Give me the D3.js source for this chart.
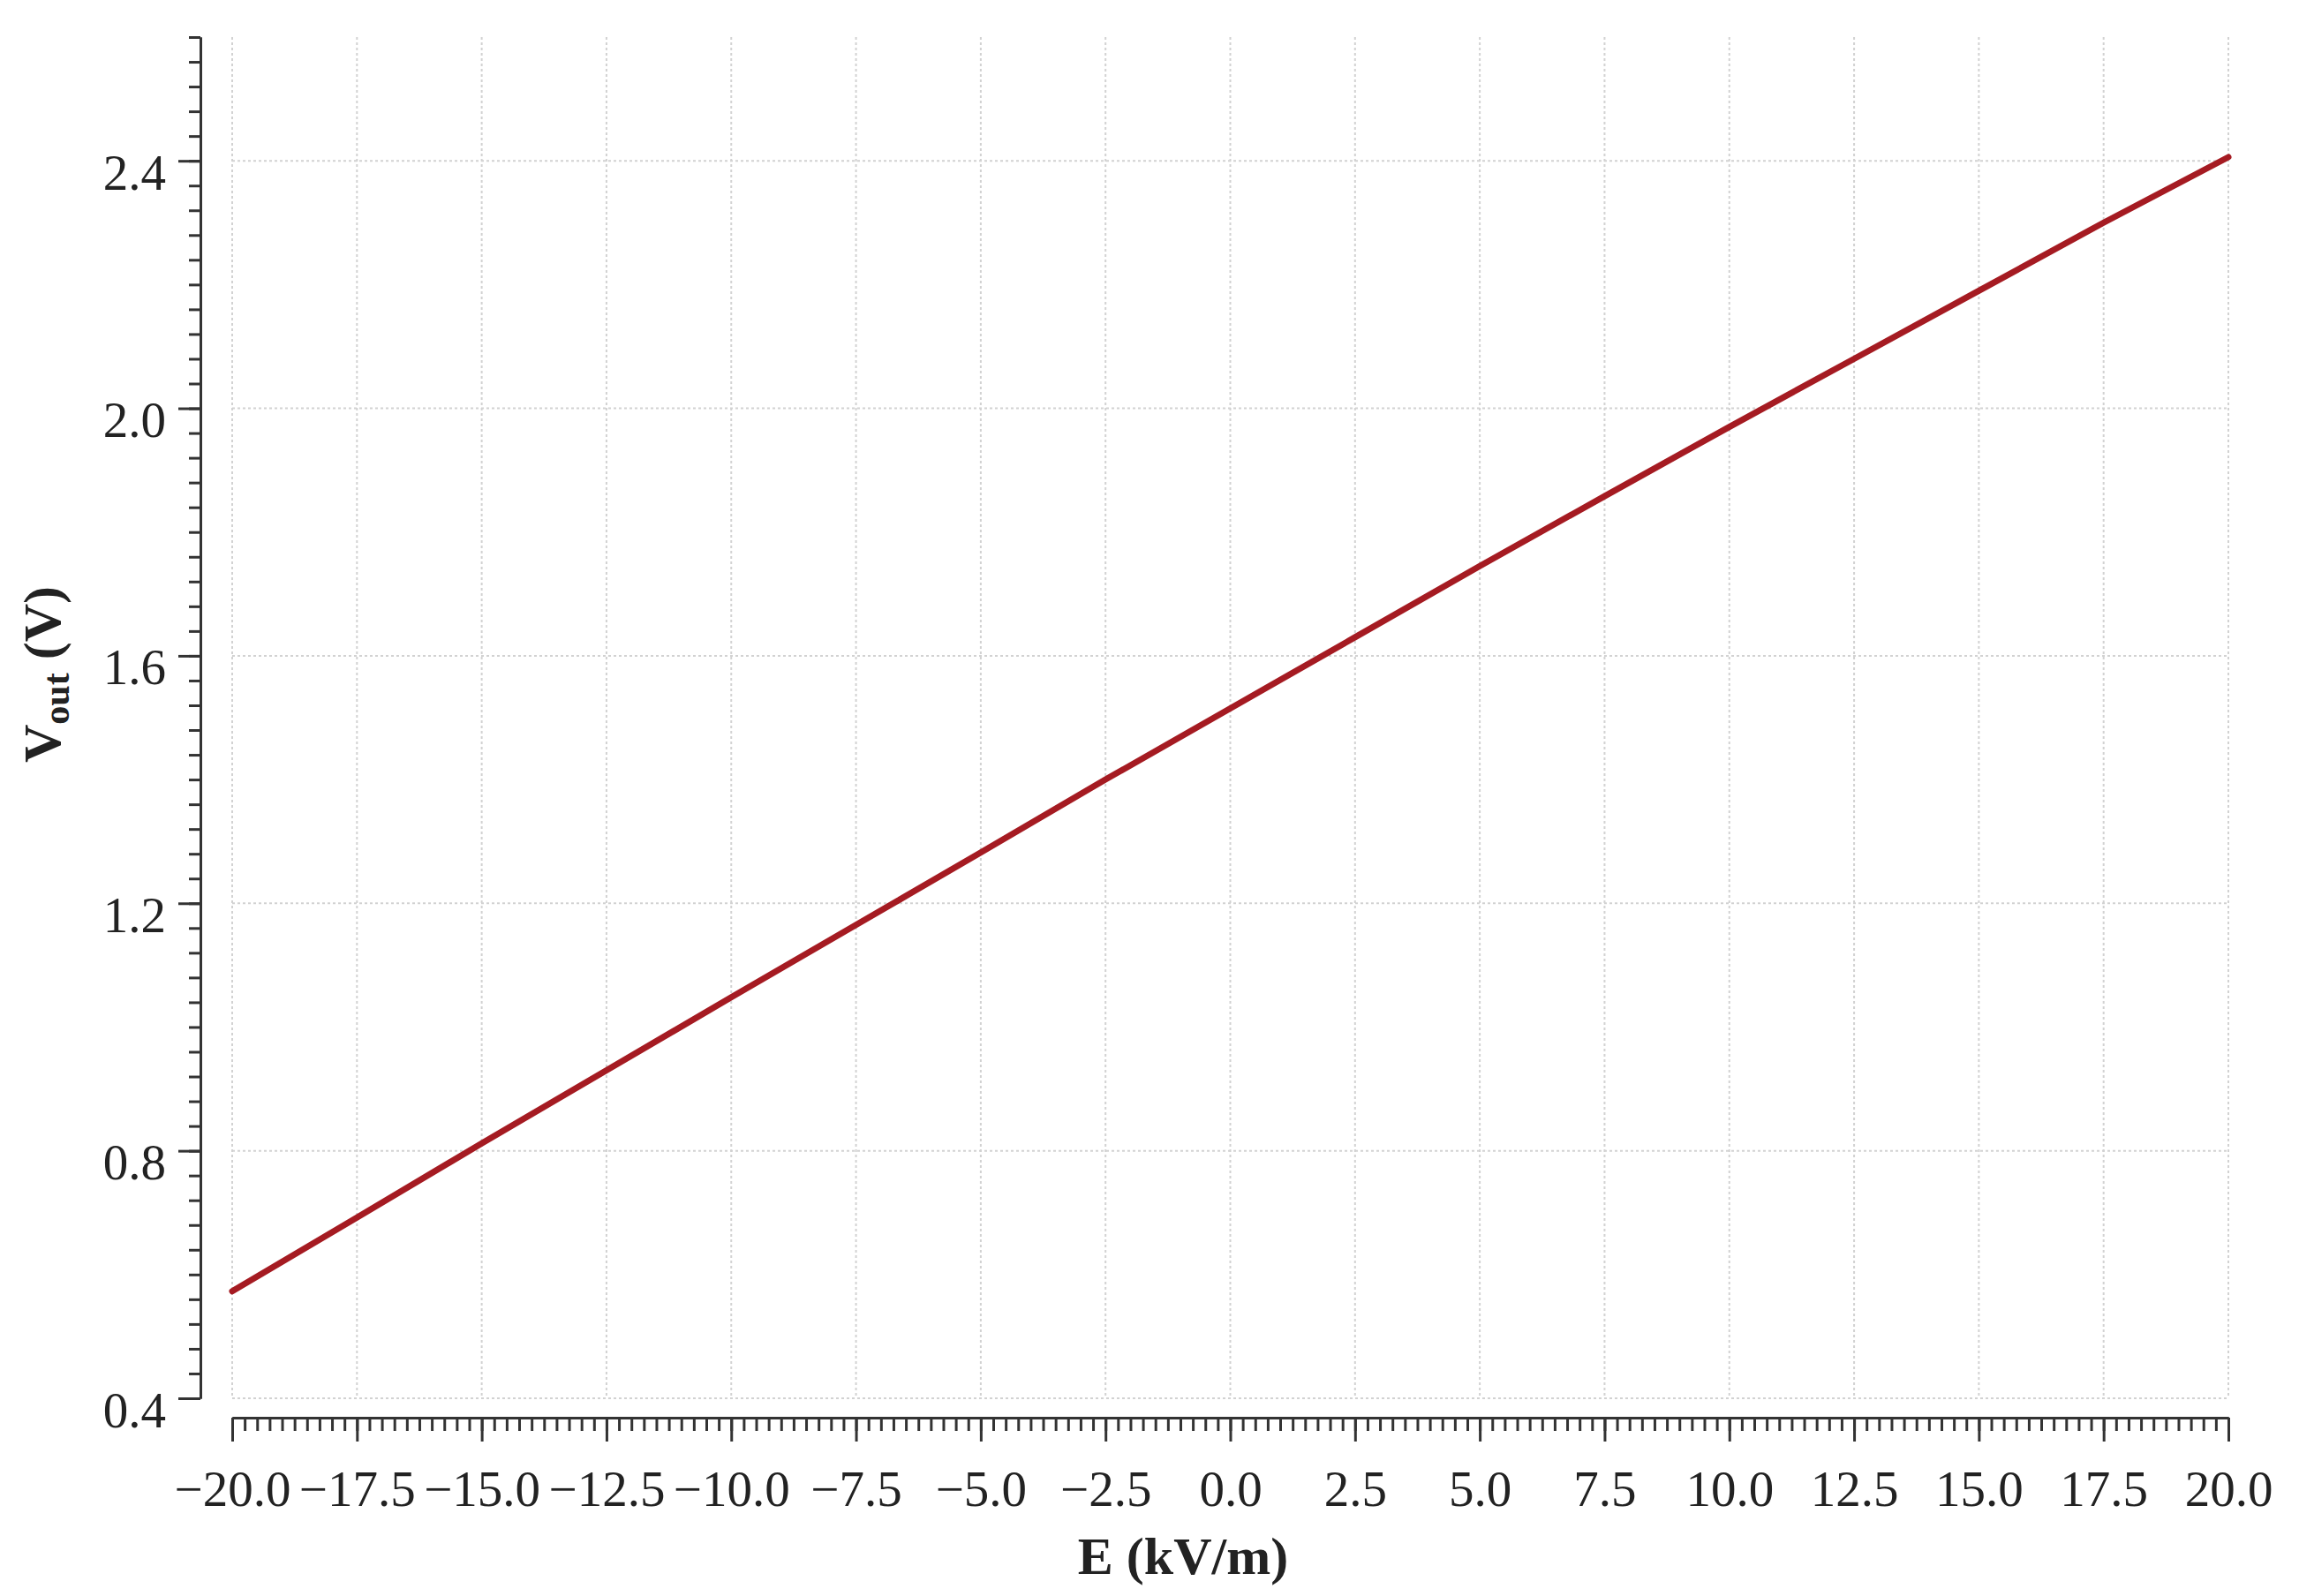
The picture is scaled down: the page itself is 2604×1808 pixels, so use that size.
<!DOCTYPE html>
<html>
<head>
<meta charset="utf-8">
<script src="https://cdn.jsdelivr.net/npm/d3@7"></script>
<style>
  body { margin: 0; background: #fff; }
  text { font-family: "Liberation Serif", "Times New Roman", serif; fill: #222; }
</style>
</head>
<body>
<div id="chart"></div>
<script>
// values
var eField = [-20, -17.5, -15, -12.5, -10, -7.5, -5, -2.5, 0, 2.5, 5, 7.5, 10, 12.5, 15, 17.5, 20];
var vOut = [0.573, 0.692, 0.812, 0.930, 1.048, 1.165, 1.282, 1.400, 1.515, 1.630, 1.745, 1.858, 1.970, 2.080, 2.190, 2.300, 2.406];

var xTicks = [-20, -17.5, -15, -12.5, -10, -7.5, -5, -2.5, 0, 2.5, 5, 7.5, 10, 12.5, 15, 17.5, 20];
var yTicks = [0.4, 0.8, 1.2, 1.6, 2.0, 2.4];

var svgWidth = 2604;
var svgHeight = 1808;

var svg = d3.select("#chart")
    .append("svg")
    .attr("width", svgWidth)
    .attr("height", svgHeight);

svg.append("rect")
    .attr("width", svgWidth)
    .attr("height", svgHeight)
    .attr("fill", "#fff");

var x = d3.scaleLinear()
    .domain([-20, 20])
    .range([263, 2524]);

var y = d3.scaleLinear()
    .domain([0.4, 2.6])
    .range([1584, 42]);

// grid
var grid = svg.append("g")
    .attr("stroke", "#d2d2d2")
    .attr("stroke-width", 2)
    .attr("stroke-dasharray", "3,3");

grid.selectAll(".vg")
    .data(xTicks)
    .enter()
    .append("line")
    .attr("x1", d => x(d))
    .attr("x2", d => x(d))
    .attr("y1", y(2.6))
    .attr("y2", y(0.4));

grid.selectAll(".hg")
    .data(yTicks)
    .enter()
    .append("line")
    .attr("x1", x(-20))
    .attr("x2", x(20))
    .attr("y1", d => y(d))
    .attr("y2", d => y(d));

// minor ticks
var xMinor = d3.range(-20, 20.001, 0.25);
var yMinor = d3.range(0.4, 2.6001, 0.04);

var axisColor = "#333";
var labelFont = "'Liberation Serif', 'Times New Roman', serif";

// x axis
var xAxisY = 1606;
var xMinorG = svg.append("g")
    .attr("transform", "translate(0," + xAxisY + ")")
    .call(d3.axisBottom(x).tickValues(xMinor).tickSize(15).tickSizeOuter(0).tickFormat(""));

var xAxisG = svg.append("g")
    .attr("transform", "translate(0," + xAxisY + ")")
    .call(d3.axisBottom(x).tickValues(xTicks).tickSize(27).tickSizeOuter(0).tickFormat(d3.format(".1f")));

// y axis
var yAxisX = 227;
var yMinorG = svg.append("g")
    .attr("transform", "translate(" + yAxisX + ",0)")
    .call(d3.axisLeft(y).tickValues(yMinor).tickSize(13).tickSizeOuter(0).tickFormat(""));

var yAxisG = svg.append("g")
    .attr("transform", "translate(" + yAxisX + ",0)")
    .call(d3.axisLeft(y).tickValues(yTicks).tickSize(25).tickSizeOuter(0).tickFormat(d3.format(".1f")));

[xMinorG, xAxisG, yMinorG, yAxisG].forEach(function(g) {
    g.selectAll("path").attr("stroke", axisColor).attr("stroke-width", 3);
    g.selectAll("line").attr("stroke", axisColor).attr("stroke-width", 3);
});

xAxisG.selectAll("text")
    .attr("font-size", 57)
    .attr("y", null)
    .attr("dy", null)
    .attr("transform", "translate(0,100)")
    .style("font-family", labelFont)
    .attr("fill", "#222");

yAxisG.selectAll("text")
    .attr("font-size", 57)
    .attr("x", -39)
    .attr("dy", null)
    .attr("y", 32)
    .style("font-family", labelFont)
    .attr("fill", "#222");

// curve
var line = d3.line()
    .x((d, i) => x(eField[i]))
    .y(d => y(d));

svg.append("path")
    .datum(vOut)
    .attr("fill", "none")
    .attr("stroke", "#a51b22")
    .attr("stroke-width", 7)
    .attr("stroke-linecap", "round")
    .attr("d", line);

// axis titles
svg.append("text")
    .attr("x", 1340)
    .attr("y", 1783)
    .attr("text-anchor", "middle")
    .attr("font-size", 60)
    .attr("font-weight", "bold")
    .text("E (kV/m)");

var yTitle = svg.append("text")
    .attr("transform", "translate(68,764) rotate(-90)")
    .attr("text-anchor", "middle")
    .attr("font-size", 60)
    .attr("font-weight", "bold");
yTitle.append("tspan").text("V");
yTitle.append("tspan").attr("font-size", 42).attr("dy", 10).text("out");
yTitle.append("tspan").attr("dy", -10).text(" (V)");
</script>
</body>
</html>
